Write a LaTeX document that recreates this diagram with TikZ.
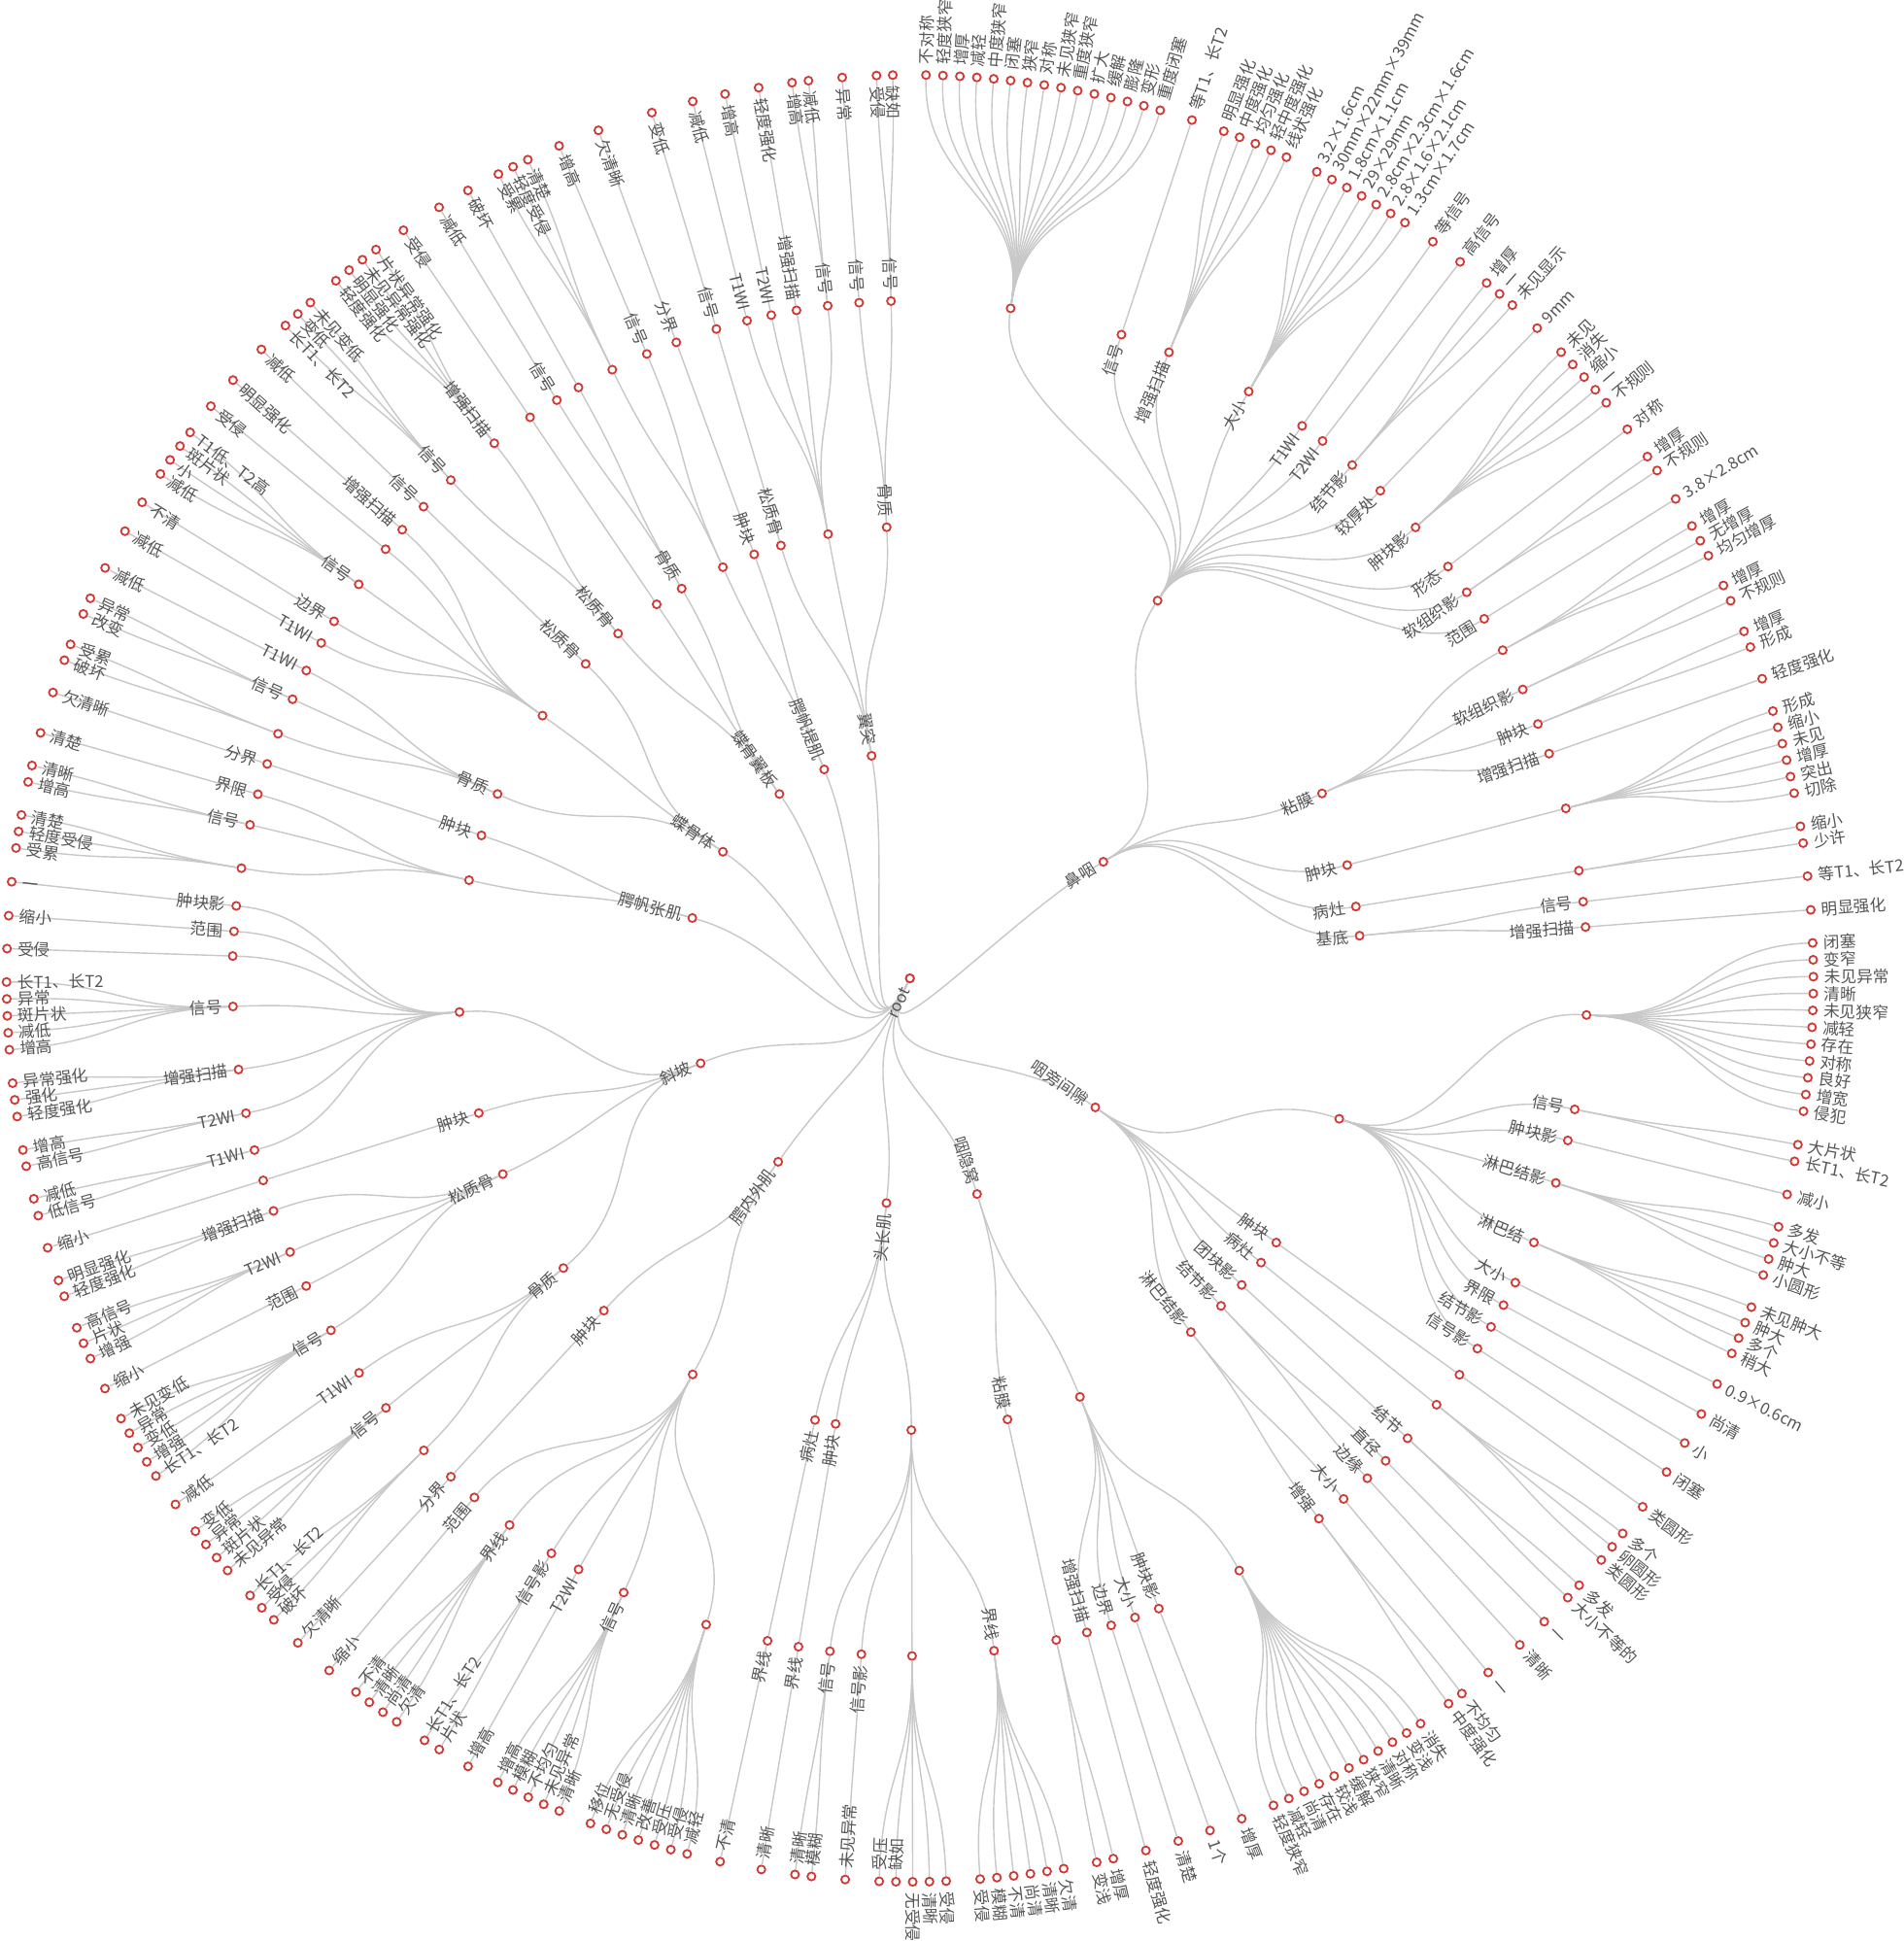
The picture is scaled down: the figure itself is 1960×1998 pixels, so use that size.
\documentclass[tikz,border=0pt]{standalone}
\usepackage{fontspec}
\newfontfamily\cjk{Noto Sans CJK SC}
\definecolor{dotred}{HTML}{D03A35}
\definecolor{edgegray}{HTML}{C8C8C8}
\definecolor{txtgray}{HTML}{555555}
\def\R{232.5}
\def\ld{11}
\def\Labels{}
\tikzset{
  dot/.style={circle, draw=dotred, line width=1.8pt, fill=white, minimum size=8.2pt, inner sep=0pt},
  edge/.style={draw=edgegray, line width=1.4pt},
  lbl/.style={font=\cjk\fontsize{16.7}{18}\selectfont, text=txtgray, inner sep=0pt, text height=14.7pt, text depth=2pt},
}
\newcommand\Nd[5]{%
  \pgfmathtruncatemacro\Ndep{\csname D@#3\endcsname+1}%
  \expandafter\xdef\csname A@#2\endcsname{#4}%
  \expandafter\xdef\csname D@#2\endcsname{\Ndep}%
  \pgfmathsetmacro\Nr{\Ndep*\R}%
  \pgfmathsetmacro\Nm{(\Ndep-0.5)*\R}%
  \pgfmathsetmacro\Npa{\csname A@#3\endcsname}%
  \node[dot] (#2) at (#4:\Nr) {};%
  \draw[edge] (#3) .. controls (\Npa:\Nm) and (#4:\Nm) .. (#2);%
  \pgfmathsetmacro\Nrot{cos(#4)<0 ? #4-180 : #4}%
  \pgfmathsetmacro\Nrotb{\Nrot+180}%
  \def\Ntmp{#5}%
  \ifx\Ntmp\empty\else
    \if#1L%
      \xdef\Labels{\unexpanded\expandafter{\Labels}\noexpand\path (#2.center) ++(\Nrot:\ld) node[lbl,rotate=\Nrot,anchor=west] (#2-t) {#5};}%
    \else
      \xdef\Labels{\unexpanded\expandafter{\Labels}\noexpand\path (#2.center) ++(\Nrotb:\ld) node[lbl,rotate=\Nrot,anchor=east] (#2-t) {#5};}%
    \fi
  \fi
}
\newcommand\Gp[4]{%
  \foreach \lab [count=\ii from 0] in {#4} {%
    \pgfmathsetmacro\ang{#2+\ii*(#3)}%
    \Nd{L}{#1-\ii}{#1}{\ang}{\lab}%
  }%
}
\begin{document}
\begin{tikzpicture}[x=1pt,y=1pt]
\useasboundingbox[fill=white] (-936.7,-990.9) rectangle (1023.3,1007.1);
\node[dot] (root) at (0,0) {};
\expandafter\gdef\csname A@root\endcsname{243.7}
\expandafter\gdef\csname D@root\endcsname{0}
% ---------------- 鼻咽
\Nd{I}{n1}{root}{31.08}{鼻咽}
\Nd{I}{n1a}{n1}{56.75}{}
\Nd{I}{n1aT}{n1a}{81.45}{}
\Gp{n1aT}{88.98}{-1.076}{不对称,轻度狭窄,增厚,减轻,中度狭窄,闭塞,狭窄,对称,未见狭窄,重度狭窄,扩大,缓解,膨隆,变形,重度闭塞}
\Nd{I}{n1aS}{n1a}{71.81}{信号}
\Gp{n1aS}{71.81}{0}{等T1、长T2}
\Nd{I}{n1aE}{n1a}{67.52}{增强扫描}
\Gp{n1aE}{69.67}{-1.076}{明显强化,中度强化,均匀强化,轻中度强化,线状强化}
\Nd{I}{n1aD}{n1a}{60.0}{大小}
\Gp{n1aD}{63.23}{-1.076}{3.2×1.6cm,30mm×22mm×39mm,1.8cm×1.1cm,29×29mm,2.8cm×2.3cm×1.6cm,2.8×1.6×2.1cm,1.3cm×1.7cm}
\Nd{I}{n1a1}{n1a}{54.63}{T1WI}
\Gp{n1a1}{54.63}{0}{等信号}
\Nd{I}{n1a2}{n1a}{52.48}{T2WI}
\Gp{n1a2}{52.48}{0}{高信号}
\Nd{I}{n1aJ}{n1a}{49.25}{结节影}
\Gp{n1aJ}{50.33}{-1.076}{增厚,一,未见显示}
\Nd{I}{n1aK}{n1a}{46.03}{较厚处}
\Gp{n1aK}{46.03}{0}{9mm}
\Nd{I}{n1aM}{n1a}{41.73}{肿块影}
\Gp{n1aM}{43.88}{-1.076}{未见,消失,缩小,一,不规则}
\Nd{I}{n1aX}{n1a}{37.43}{形态}
\Gp{n1aX}{37.43}{0}{对称}
\Nd{I}{n1aR}{n1a}{34.74}{软组织影}
\Gp{n1aR}{35.28}{-1.076}{增厚,不规则}
\Nd{I}{n1aF}{n1a}{32.05}{范围}
\Gp{n1aF}{32.05}{0}{3.8×2.8cm}
\Nd{I}{n1b}{n1}{24.17}{粘膜}
\Nd{I}{n1bU}{n1b}{28.97}{}
\Gp{n1bU}{30.05}{-1.076}{增厚,无增厚,均匀增厚}
\Nd{I}{n1bR}{n1b}{25.24}{软组织影}
\Gp{n1bR}{25.78}{-1.076}{增厚,不规则}
\Nd{I}{n1bM}{n1b}{22.05}{肿块}
\Gp{n1bM}{22.59}{-1.076}{增厚,形成}
\Nd{I}{n1bE}{n1b}{19.37}{增强扫描}
\Gp{n1bE}{19.37}{0}{轻度强化}
\Nd{I}{n1c}{n1}{14.53}{肿块}
\Nd{I}{n1cU}{n1c}{14.53}{}
\Gp{n1cU}{17.21}{-1.076}{形成,缩小,未见,增厚,突出,切除}
\Nd{I}{n1d}{n1}{9.15}{病灶}
\Nd{I}{n1dU}{n1d}{9.15}{}
\Gp{n1dU}{9.69}{-1.076}{缩小,少许}
\Nd{I}{n1e}{n1}{5.42}{基底}
\Nd{I}{n1eS}{n1e}{6.5}{信号}
\Gp{n1eS}{6.5}{0}{等T1、长T2}
\Nd{I}{n1eE}{n1e}{4.35}{增强扫描}
\Gp{n1eE}{4.35}{0}{明显强化}
% ---------------- 咽旁间隙
\Nd{I}{n2}{root}{-34.83}{咽旁间隙}
\Nd{I}{n2a}{n2}{-18.11}{}
\Nd{I}{n2aU}{n2a}{-3.1}{}
\Gp{n2aU}{2.25}{-1.071}{闭塞,变窄,未见异常,清晰,未见狭窄,减轻,存在,对称,良好,增宽,侵犯}
\Nd{I}{n2aS}{n2a}{-11.15}{信号}
\Gp{n2aS}{-10.61}{-1.076}{大片状,长T1、长T2}
\Nd{I}{n2aM}{n2a}{-13.84}{肿块影}
\Gp{n2aM}{-13.84}{0}{减小}
\Nd{I}{n2aL}{n2a}{-17.57}{淋巴结影}
\Gp{n2aL}{-15.96}{-1.07}{多发,大小不等,肿大,小圆形}
\Nd{I}{n2aN}{n2a}{-22.94}{淋巴结}
\Gp{n2aN}{-21.34}{-1.063}{未见肿大,肿大,多个,稍大}
\Nd{I}{n2aD}{n2a}{-26.68}{大小}
\Gp{n2aD}{-26.68}{0}{0.9×0.6cm}
\Nd{I}{n2aB}{n2a}{-28.83}{界限}
\Gp{n2aB}{-28.83}{0}{尚清}
\Nd{I}{n2aJ}{n2a}{-30.95}{结节影}
\Gp{n2aJ}{-30.95}{0}{小}
\Nd{I}{n2aY}{n2a}{-33.12}{信号影}
\Gp{n2aY}{-33.12}{0}{闭塞}
\Nd{I}{n2b}{n2}{-35.8}{肿块}
\Nd{I}{n2bU}{n2b}{-35.8}{}
\Gp{n2bU}{-35.8}{0}{类圆形}
\Nd{I}{n2c}{n2}{-38.99}{病灶}
\Nd{I}{n2cU}{n2c}{-38.99}{}
\Gp{n2cU}{-37.91}{-1.08}{多个,卵圆形,类圆形}
\Nd{I}{n2d}{n2}{-42.74}{团块影}
\Nd{I}{n2dJ}{n2d}{-42.74}{结节}
\Gp{n2dJ}{-42.2}{-1.07}{多发,大小不等的}
\Nd{I}{n2e}{n2}{-46.47}{结节影}
\Nd{I}{n2eZ}{n2e}{-45.4}{直径}
\Gp{n2eZ}{-45.4}{0}{一}
\Nd{I}{n2eB}{n2e}{-47.54}{边缘}
\Gp{n2eB}{-47.54}{0}{清晰}
\Nd{I}{n2f}{n2}{-51.54}{淋巴结影}
\Nd{I}{n2fD}{n2f}{-50.2}{大小}
\Gp{n2fD}{-50.2}{0}{一}
\Nd{I}{n2fE}{n2f}{-52.87}{增强}
\Gp{n2fE}{-52.34}{-1.06}{不均匀,中度强化}
% ---------------- 咽隐窝
\Nd{I}{n3}{root}{-72.71}{咽隐窝}
\Nd{I}{n3a}{n3}{-77.53}{粘膜}
\Nd{I}{n3aU}{n3a}{-77.53}{}
\Gp{n3aU}{-76.99}{-1.08}{增厚,变浅}
\Nd{I}{n3b}{n3}{-67.89}{}
\Nd{I}{n3bE}{n3b}{-74.86}{增强扫描}
\Gp{n3bE}{-74.86}{0}{轻度强化}
\Nd{I}{n3bB}{n3b}{-72.72}{边界}
\Gp{n3bB}{-72.72}{0}{清楚}
\Nd{I}{n3bD}{n3b}{-70.6}{大小}
\Gp{n3bD}{-70.6}{0}{1个}
\Nd{I}{n3bM}{n3b}{-68.45}{肿块影}
\Gp{n3bM}{-68.45}{0}{增厚}
\Nd{I}{n3bU}{n3b}{-60.92}{}
\Gp{n3bU}{-66.27}{1.069}{轻度狭窄,减轻,尚清,存在,较浅,缓解,狭窄,清晰,对称,变浅,消失}
% ---------------- 头长肌
\Nd{I}{n4}{root}{264.03}{头长肌}
\Nd{I}{n4a}{n4}{257.87}{病灶}
\Nd{I}{n4aB}{n4a}{257.87}{界线}
\Gp{n4aB}{257.87}{0}{不清}
\Nd{I}{n4b}{n4}{260.53}{肿块}
\Nd{I}{n4bB}{n4b}{260.53}{界线}
\Gp{n4bB}{260.53}{0}{清晰}
\Nd{I}{n4c}{n4}{270.18}{}
\Nd{I}{n4cS}{n4c}{263.22}{信号}
\Gp{n4cS}{262.69}{1.05}{清晰,模糊}
\Nd{I}{n4cY}{n4c}{265.89}{信号影}
\Gp{n4cY}{265.89}{0}{未见异常}
\Nd{I}{n4cU}{n4c}{270.18}{}
\Gp{n4cU}{268.05}{1.0625}{受压,缺如,无受侵,清晰,受侵}
\Nd{I}{n4cB}{n4c}{277.13}{界线}
\Gp{n4cB}{274.46}{1.068}{受侵,模糊,不清,尚清,清晰,欠清}
% ---------------- 腭内外肌
\Nd{I}{n5}{root}{234.3}{腭内外肌}
\Nd{I}{n5a}{n5}{227.35}{肿块}
\Nd{I}{n5aF}{n5a}{227.35}{分界}
\Gp{n5aF}{227.35}{0}{欠清晰}
\Nd{I}{n5b}{n5}{241.25}{}
\Nd{I}{n5bF}{n5b}{230.0}{范围}
\Gp{n5bF}{230.0}{0}{缩小}
\Nd{I}{n5bB}{n5b}{233.78}{界线}
\Gp{n5bB}{232.18}{1.067}{不清,清晰,尚清,欠清}
\Nd{I}{n5bY}{n5b}{238.05}{信号影}
\Gp{n5bY}{237.5}{1.1}{长T1、长T2,片状}
\Nd{I}{n5b2}{n5b}{240.72}{T2WI}
\Gp{n5b2}{240.72}{0}{增高}
\Nd{I}{n5bS}{n5b}{245.01}{信号}
\Gp{n5bS}{242.86}{1.075}{增高,模糊,不均匀,未见异常,清晰}
\Nd{I}{n5bU}{n5b}{252.5}{}
\Gp{n5bU}{249.29}{1.072}{移位,无受侵,清晰,改善,受压,受侵,减轻}
% ---------------- 斜坡
\Nd{I}{n6}{root}{202.08}{斜坡}
\Nd{I}{n6a}{n6}{184.27}{}
\Nd{I}{n6aM}{n6a}{173.86}{肿块影}
\Gp{n6aM}{173.86}{0}{一}
\Nd{I}{n6aF}{n6a}{176.02}{范围}
\Gp{n6aF}{176.02}{0}{缩小}
\Nd{I}{n6aU}{n6a}{178.11}{}
\Gp{n6aU}{178.11}{0}{受侵}
\Nd{I}{n6aS}{n6a}{182.38}{信号}
\Gp{n6aS}{180.23}{1.075}{长T1、长T2,异常,斑片状,减低,增高}
\Nd{I}{n6aE}{n6a}{187.73}{增强扫描}
\Gp{n6aE}{186.66}{1.07}{异常强化,强化,轻度强化}
\Nd{I}{n6a2}{n6a}{191.48}{T2WI}
\Gp{n6a2}{190.95}{1.05}{增高,高信号}
\Nd{I}{n6a1}{n6a}{194.68}{T1WI}
\Gp{n6a1}{194.12}{1.11}{减低,低信号}
\Nd{I}{n6b}{n6}{197.35}{肿块}
\Nd{I}{n6bU}{n6b}{197.35}{}
\Gp{n6bU}{197.35}{0}{缩小}
\Nd{I}{n6c}{n6}{205.68}{松质骨}
\Nd{I}{n6cE}{n6c}{200.07}{增强扫描}
\Gp{n6cE}{199.53}{1.07}{明显强化,轻度强化}
\Nd{I}{n6c2}{n6c}{203.82}{T2WI}
\Gp{n6c2}{202.75}{1.07}{高信号,片状,增强}
\Nd{I}{n6cF}{n6c}{207.0}{范围}
\Gp{n6cF}{207.0}{0}{缩小}
\Nd{I}{n6cS}{n6c}{211.29}{信号}
\Gp{n6cS}{209.16}{1.065}{未见变低,异常,变低,增强,长T1、长T2}
\Nd{I}{n6d}{n6}{219.89}{骨质}
\Nd{I}{n6d1}{n6d}{215.61}{T1WI}
\Gp{n6d1}{215.61}{0}{减低}
\Nd{I}{n6dS}{n6d}{219.34}{信号}
\Gp{n6dS}{217.73}{1.073}{变低,异常,斑片状,未见异常}
\Nd{I}{n6dU}{n6d}{224.16}{}
\Gp{n6dU}{223.08}{1.08}{长T1、长T2,受侵,破坏}
% ---------------- 腭帆张肌
\Nd{I}{n7}{root}{164.5}{腭帆张肌}
\Nd{I}{n7a}{n7}{161.55}{肿块}
\Nd{I}{n7aF}{n7a}{161.55}{分界}
\Gp{n7aF}{161.55}{0}{欠清晰}
\Nd{I}{n7b}{n7}{167.44}{}
\Nd{I}{n7bB}{n7b}{164.23}{界限}
\Gp{n7bB}{164.23}{0}{清楚}
\Nd{I}{n7bS}{n7b}{166.9}{信号}
\Gp{n7bS}{166.37}{1.07}{清晰,增高}
\Nd{I}{n7bU}{n7b}{170.64}{}
\Gp{n7bU}{169.58}{1.06}{清楚,轻度受侵,受累}
% ---------------- 蝶骨体
\Nd{I}{n8}{root}{145.9}{蝶骨体}
\Nd{I}{n8a}{n8}{135.88}{松质骨}
\Nd{I}{n8aS}{n8a}{135.88}{信号}
\Gp{n8aS}{135.88}{0}{减低}
\Nd{I}{n8b}{n8}{144.43}{}
\Nd{I}{n8bE}{n8b}{138.53}{增强扫描}
\Gp{n8bE}{138.53}{0}{明显强化}
\Nd{I}{n8bU}{n8b}{140.7}{}
\Gp{n8bU}{140.7}{0}{受侵}
\Nd{I}{n8bS}{n8b}{144.44}{信号}
\Gp{n8bS}{142.82}{1.08}{T1低、T2高,斑片状,小,减低}
\Nd{I}{n8bB}{n8b}{148.2}{边界}
\Gp{n8bB}{148.2}{0}{不清}
\Nd{I}{n8b1}{n8b}{150.33}{T1WI}
\Gp{n8b1}{150.33}{0}{减低}
\Nd{I}{n8c}{n8}{155.91}{骨质}
\Nd{I}{n8c1}{n8c}{152.98}{T1WI}
\Gp{n8c1}{152.98}{0}{减低}
\Nd{I}{n8cS}{n8c}{155.67}{信号}
\Gp{n8cS}{155.12}{1.09}{异常,改变}
\Nd{I}{n8cU}{n8c}{158.84}{}
\Gp{n8cU}{158.3}{1.08}{受累,破坏}
% ---------------- 蝶骨翼板
\Nd{I}{n9}{root}{125.3}{蝶骨翼板}
\Nd{I}{n9a}{n9}{120.35}{骨质}
\Nd{I}{n9aU}{n9a}{119.29}{}
\Gp{n9aU}{119.29}{0}{破坏}
\Nd{I}{n9aS}{n9a}{121.41}{信号}
\Gp{n9aS}{121.41}{0}{减低}
\Nd{I}{n9b}{n9}{124.1}{}
\Nd{I}{n9bU}{n9b}{124.1}{}
\Gp{n9bU}{124.1}{0}{受侵}
\Nd{I}{n9c}{n9}{130.25}{松质骨}
\Nd{I}{n9cE}{n9c}{127.84}{增强扫描}
\Gp{n9cE}{126.23}{1.073}{片状异常强化,未见异常强化,明显强化,轻度强化}
\Nd{I}{n9cS}{n9c}{132.66}{信号}
\Gp{n9cS}{131.58}{1.075}{未见变低,变低,长T1、长T2}
% ---------------- 腭帆提肌
\Nd{I}{n10}{root}{112.31}{腭帆提肌}
\Nd{I}{n10a}{n10}{110.17}{肿块}
\Nd{I}{n10aF}{n10a}{110.17}{分界}
\Gp{n10aF}{110.17}{0}{欠清晰}
\Nd{I}{n10b}{n10}{114.46}{}
\Nd{I}{n10bS}{n10b}{112.85}{信号}
\Gp{n10bS}{112.85}{0}{增高}
\Nd{I}{n10bU}{n10b}{116.06}{}
\Gp{n10bU}{115.02}{1.04}{清楚,轻度受侵,受累}
% ---------------- 翼突
\Nd{I}{n11}{root}{99.78}{翼突}
\Nd{I}{n11a}{n11}{92.95}{骨质}
\Nd{I}{n11aS}{n11a}{91.6}{信号}
\Gp{n11aS}{91.09}{1.03}{缺如,受侵}
\Nd{I}{n11aT}{n11a}{94.3}{信号}
\Gp{n11aT}{94.3}{0}{异常}
\Nd{I}{n11b}{n11}{100.44}{}
\Nd{I}{n11bS}{n11b}{96.97}{信号}
\Gp{n11bS}{96.45}{1.05}{减低,增高}
\Nd{I}{n11bE}{n11b}{99.64}{增强扫描}
\Gp{n11bE}{99.64}{0}{轻度强化}
\Nd{I}{n11b2}{n11b}{101.81}{T2WI}
\Gp{n11b2}{101.81}{0}{增高}
\Nd{I}{n11b1}{n11b}{103.91}{T1WI}
\Gp{n11b1}{103.91}{0}{减低}
\Nd{I}{n11c}{n11}{106.6}{松质骨}
\Nd{I}{n11cS}{n11c}{106.6}{信号}
\Gp{n11cS}{106.6}{0}{变低}
% ---------------- labels on top of the connectors
\node[dot] (root-top) at (root) {};
\path (root.center) ++(243.7:\ld) node[lbl,rotate=63.7,anchor=east] (root-t) {root};
\Labels
\end{tikzpicture}
\end{document}
